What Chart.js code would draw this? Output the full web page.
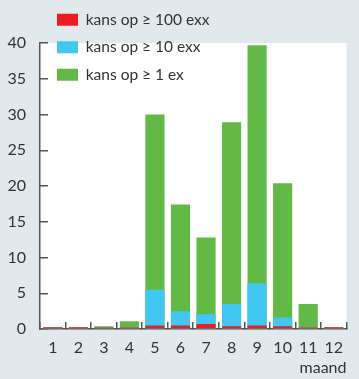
<!DOCTYPE html>
<html>
<head>
<meta charset="utf-8">
<script src="https://cdn.jsdelivr.net/npm/chart.js@4"></script>
<style>
  html, body { margin: 0; padding: 0; background: #e1e9ed; }
  #wrap { width: 359px; height: 379px; }
</style>
</head>
<body>
<div id="wrap"><canvas id="chart"></canvas></div>
<script>
// maanden en kansen (cumulatief: >= 1 bevat >= 10 bevat >= 100)
const months = ['1', '2', '3', '4', '5', '6', '7', '8', '9', '10', '11', '12'];
const atLeast100 = [0.25, 0.25, 0.2, 0.2, 0.5, 0.5, 0.7, 0.4, 0.5, 0.4, 0.2, 0.25];
const atLeast10 = [0.2, 0.2, 0.2, 0.2, 5.5, 2.5, 2.1, 3.5, 6.4, 1.6, 0.2, 0.2];
const atLeast1 = [0.2, 0.2, 0.4, 1.1, 30, 17.4, 12.8, 28.9, 39.7, 20.4, 3.5, 0.2];
const seriesLabels = ['kans op \u2265 100 exx', 'kans op \u2265 10 exx', 'kans op \u2265 1 ex'];
const yTicks = [0, 5, 10, 15, 20, 25, 30, 35, 40];

Chart.defaults.font.family = 'Lato';
Chart.defaults.color = '#333';

// grijze achtergrond, wit plotvlak
const background = {
    id: 'background',
    beforeDraw(chart) {
        const { ctx, chartArea: a } = chart;
        ctx.save();
        ctx.fillStyle = '#e1e9ed';
        ctx.fillRect(0, 0, chart.width, chart.height);
        ctx.fillStyle = '#ffffff';
        ctx.fillRect(a.left, a.top, a.right - a.left, a.bottom - a.top);
        ctx.restore();
    }
};

// legenda linksboven, deels boven het plotvlak
const legendPlace = {
    id: 'legendPlace',
    afterLayout(chart) {
        const lg = chart.legend;
        if (!lg) return;
        lg.left = 45;
        lg.top = 0;
        lg.right = lg.left + lg.width;
        lg.bottom = lg.top + lg.height;
    }
};

const ctx = document.getElementById('chart').getContext('2d');
new Chart(ctx, {
    type: 'bar',
    data: {
        labels: months,
        datasets: [
            { label: seriesLabels[0], data: atLeast100, backgroundColor: '#ed1c24', order: 0 },
            { label: seriesLabels[1], data: atLeast10, backgroundColor: '#41c7f2', order: 1 },
            { label: seriesLabels[2], data: atLeast1, backgroundColor: '#62b946', order: 2 }
        ]
    },
    options: {
        responsive: true,
        maintainAspectRatio: false,
        animation: false,
        layout: { padding: { top: 43, right: 0, left: 0, bottom: 0 } },
        datasets: { bar: { barPercentage: 0.75, categoryPercentage: 1 } },
        plugins: {
            tooltip: { enabled: false },
            legend: {
                position: 'chartArea',
                align: 'start',
                labels: {
                    boxWidth: 21,
                    boxHeight: 12,
                    padding: 12,
                    color: '#333',
                    font: { size: 15.5 }
                }
            }
        },
        scales: {
            x: {
                stacked: true,
                border: { color: '#555', width: 1.5 },
                grid: { drawOnChartArea: false, tickLength: -7, color: '#555', lineWidth: 1.5 },
                ticks: { padding: 16, font: { size: 16 }, maxRotation: 0 },
                title: { display: true, text: 'maand', align: 'end', font: { size: 16 }, padding: { top: 0, bottom: 2 } },
                afterFit(scale) { scale.height = 50; }
            },
            y: {
                stacked: false,
                min: 0,
                max: 40,
                border: { color: '#555', width: 1.5 },
                grid: { drawOnChartArea: false, tickLength: -8, color: '#555', lineWidth: 1.5 },
                afterBuildTicks(scale) { scale.ticks = yTicks.map(v => ({ value: v })); },
                ticks: { padding: 22, font: { size: 16 } },
                afterFit(scale) { scale.width = 40; }
            }
        }
    },
    plugins: [background, legendPlace]
});
</script>
</body>
</html>
